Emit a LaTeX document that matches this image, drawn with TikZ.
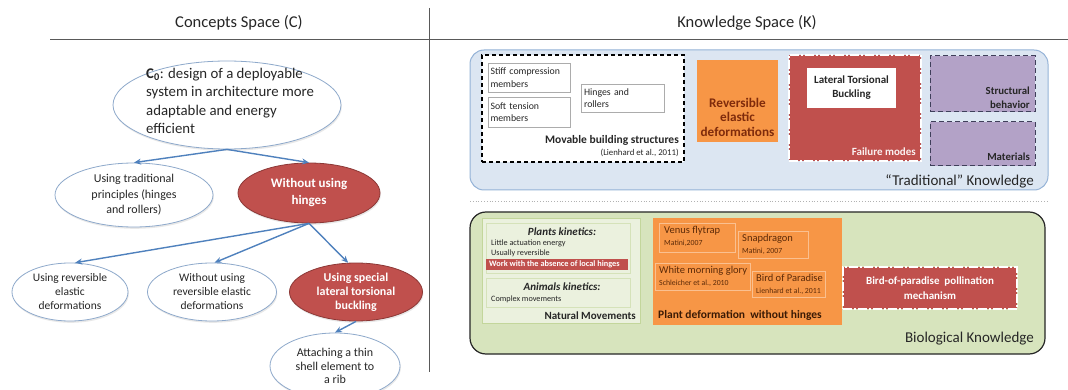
\documentclass[tikz,border=0pt]{standalone}
\usepackage{fontspec}
\setmainfont{Carlito}
\usetikzlibrary{shapes.geometric,arrows.meta,shadows}
\definecolor{arrowblue}{HTML}{4F81BD}
\definecolor{ellborder}{HTML}{8EA9CB}
\definecolor{redfill}{HTML}{C0504D}
\definecolor{redborder}{HTML}{8C3836}
\definecolor{bluefill}{HTML}{DCE6F2}
\definecolor{blueborder}{HTML}{95B3D7}
\definecolor{greenfill}{HTML}{D7E4BD}
\definecolor{greenborder}{HTML}{262626}
\definecolor{orangefill}{HTML}{F79646}
\definecolor{orangeline}{HTML}{FAC090}
\definecolor{purplefill}{HTML}{B3A2C7}
\definecolor{purpleborder}{HTML}{3F3F5A}
\definecolor{natfill}{HTML}{EBF1DE}
\definecolor{natborder}{HTML}{C3D69B}
\definecolor{darktext}{HTML}{262626}
\definecolor{brownA}{HTML}{7F2B0B}
\definecolor{brownB}{HTML}{3A1A05}
\definecolor{brownC}{HTML}{5C2A08}
\definecolor{headline}{HTML}{595959}
\newcommand\fsz[2]{\fontsize{#1}{#2}\selectfont}
\begin{document}
\begin{tikzpicture}[x=1pt,y=-1pt,
  ell/.style={ellipse, draw=ellborder, fill=white, line width=0.8pt, inner sep=0pt, align=center,
    font=\fsz{12}{15.5}, text=darktext, drop shadow={opacity=0.18,shadow xshift=0.8pt,shadow yshift=-1.8pt}},
  redell/.style={ell, fill=redfill, draw=redborder, text=white, font=\fsz{13}{17}\bfseries},
  arr/.style={-{Stealth[length=7pt,width=6pt]}, draw=arrowblue, line width=1.4pt},
  rbox/.style={rectangle, inner sep=0pt},
  smallbox/.style={rbox, draw=gray!65, fill=white, line width=0.5pt, align=left, font=\fsz{9.8}{12.5}, text=darktext},
  obox/.style={rbox, draw=orangeline, fill=orangefill, line width=0.6pt},
  purplebox/.style={rbox, fill=purplefill, draw=purpleborder, line width=1pt, dash pattern=on 5pt off 3pt},
  roughred/.style={rbox, fill=redfill, draw=white, line width=1.3pt, dash pattern=on 9pt off 2pt on 2pt off 2pt},
  head/.style={font=\fsz{16.5}{19}, text=darktext},
  label/.style={font=\fsz{15}{18}, text=darktext},
  tiny/.style={font=\fsz{8.2}{10}, text=darktext, inner sep=0pt}
]
\useasboundingbox (0,0) rectangle (1068,390);
\fill[white] (0,0) rectangle (1068,390);

% headers and separating lines
\node[head] (hc) at (239,23) {Concepts Space (C)};
\node[head] (hk) at (747,23) {Knowledge Space (K)};
\coordinate (hl1) at (50,40);
\coordinate (hl2) at (1068,40);
\coordinate (vl1) at (429,8);
\coordinate (vl2) at (429,372);
\draw[headline, line width=1pt] (hl1) -- (hl2);
\draw[headline, line width=1pt] (vl1) -- (vl2);

% ---------------- Concepts space ----------------
\node[ell, minimum width=228pt, minimum height=88pt] (c0) at (227,105) {};
\node[anchor=west, align=left, font=\fsz{14.8}{18.3}, text=darktext, inner sep=0pt] (c0t) at (146,101)
  {\textbf{C\textsubscript{0}}: design of a deployable\\system in architecture more\\adaptable and energy\\efficient};
\node[ell, minimum width=158pt, minimum height=64pt] (trad) at (134,195) {Using traditional\\principles (hinges\\and rollers)};
\node[redell, minimum width=142pt, minimum height=60pt] (wh) at (309,193) {Without using\\hinges};
\node[ell, minimum width=116pt, minimum height=58pt, font=\fsz{11.5}{14}] (urev) at (70,292) {Using reversible\\elastic\\deformations};
\node[ell, minimum width=129pt, minimum height=58pt, font=\fsz{11.5}{14}] (wrev) at (212,292) {Without using\\reversible elastic\\deformations};
\node[redell, minimum width=133pt, minimum height=58pt, font=\fsz{12}{14}\bfseries] (spec) at (356,292) {Using special\\lateral torsional\\buckling};
\node[ell, minimum width=130pt, minimum height=66pt, font=\fsz{12}{13.5}] (att) at (335,366) {Attaching a thin\\shell element to\\a rib};

\draw[arr] (c0.south) -- (trad.north);
\draw[arr] (c0.south) -- (wh.north);
\draw[arr] (wh.south) -- (urev.80);
\draw[arr] (wh.south) -- (wrev.85);
\draw[arr] (wh.south) -- (spec.105);
\draw[arr] (spec.south) -- (att.north);

% ---------------- Traditional knowledge ----------------
\node[rbox, fill=bluefill, draw=blueborder, line width=1pt, rounded corners=14pt,
  minimum width=578pt, minimum height=140pt] (trk) at (759,120) {};
\node[rbox, fill=white, draw=black, line width=1.2pt, dash pattern=on 4pt off 3pt,
  minimum width=202pt, minimum height=107pt] (mov) at (583,108.5) {};
\node[smallbox, minimum width=82pt, minimum height=29pt, text width=77pt] (stiff) at (529,77.5) {Stiff compression\\members};
\node[smallbox, minimum width=82pt, minimum height=30pt, text width=77pt] (soft) at (529,112) {Soft tension\\members};
\node[smallbox, minimum width=83pt, minimum height=28pt, text width=77pt] (hing) at (622.5,98) {Hinges and\\rollers};
\node[anchor=east, font=\fsz{11.5}{13}\bfseries, text=darktext, inner sep=0pt] (movt) at (679,140) {Movable building structures};
\node[anchor=east, font=\fsz{8.8}{10}, text=darktext, inner sep=0pt] (movc) at (679,153) {(Lienhard et al., 2011)};

\node[rbox, fill=orangefill, minimum width=81pt, minimum height=82pt] (rev) at (737.5,101) {};
\node[align=center, font=\fsz{13.2}{14.5}\bfseries, text=brownA, inner sep=0pt] (revt) at (737.5,117) {Reversible\\elastic\\deformations};

\node[roughred, minimum width=132pt, minimum height=106pt] (fail) at (855,108) {};
\node[rbox, fill=white, minimum width=89pt, minimum height=40pt, align=center,
  font=\fsz{11}{14}\bfseries, text=darktext] (ltb) at (851.5,88) {Lateral Torsional\\Buckling};
\node[anchor=east, font=\fsz{11}{12}\bfseries, text=white!92!redfill, inner sep=0pt] (failt) at (916,152) {Failure modes};

\node[purplebox, minimum width=105pt, minimum height=56pt] (sb) at (982.5,84) {};
\node[anchor=south east, align=right, font=\fsz{10.8}{14}\bfseries, text=darktext, inner sep=0pt] (sbt) at (1030,109) {Structural\\behavior};
\node[purplebox, minimum width=105pt, minimum height=44pt] (mat) at (982.5,144) {};
\node[anchor=east, font=\fsz{10.8}{12}\bfseries, text=darktext, inner sep=0pt] (matt) at (1030,157) {Materials};

\node[anchor=east, label, inner sep=0pt] (trt) at (1034,181) {“Traditional” Knowledge};

% dotted separator
\coordinate (ds1) at (470,201);
\coordinate (ds2) at (1048,201);
\draw[gray!60, line width=0.8pt, dotted] (ds1) -- (ds2);

% ---------------- Biological knowledge ----------------
\node[rbox, fill=greenfill, draw=greenborder, line width=1.2pt, rounded corners=16pt,
  minimum width=575pt, minimum height=142pt] (bio) at (757.5,283) {};

\node[rbox, fill=natfill, draw=natborder, line width=0.6pt, minimum width=158pt, minimum height=105pt] (nat) at (561,270.5) {};
\node[rbox, fill=natfill, draw=natborder!70, line width=0.5pt, minimum width=144pt, minimum height=50pt] (plk) at (558,248) {};
\node[font=\fsz{11}{12}\bfseries\itshape, text=darktext, inner sep=0pt] (plkt) at (562,232) {Plants kinetics:};
\node[anchor=west, tiny] (lae) at (491,243) {Little actuation energy};
\node[anchor=west, tiny] (urv) at (491,253) {Usually reversible};
\node[rbox, fill=redfill, minimum width=142pt, minimum height=11pt] (wabs) at (557,264.5) {};
\node[anchor=west, font=\fsz{8.3}{9}\bfseries, text=white, inner sep=0pt] (wabst) at (489,264.5) {Work with the absence of local hinges};
\node[rbox, fill=natfill, draw=natborder!70, line width=0.5pt, minimum width=144pt, minimum height=29pt] (ank) at (558,292.5) {};
\node[font=\fsz{11}{12}\bfseries\itshape, text=darktext, inner sep=0pt] (ankt) at (562,287) {Animals kinetics:};
\node[anchor=west, tiny] (cmv) at (491,299) {Complex movements};
\node[anchor=east, font=\fsz{11}{12}\bfseries, text=darktext, inner sep=0pt] (natt) at (636,316) {Natural Movements};

\node[rbox, fill=orangefill, minimum width=189pt, minimum height=107pt] (pdef) at (747.5,271.5) {};
\node[obox, minimum width=76pt, minimum height=29pt] (venus) at (697,237.5) {};
\node[anchor=north west, align=left, inner sep=0pt, font=\fsz{10.5}{12}, text=brownC] (venust) at (664,226)
  {Venus flytrap\\{\fsz{7.8}{9}Matini,2007}};
\node[obox, minimum width=70pt, minimum height=27pt] (snap) at (773,244.5) {};
\node[anchor=north west, align=left, inner sep=0pt, font=\fsz{10.5}{12}, text=brownC] (snapt) at (742,234)
  {Snapdragon\\{\fsz{7.8}{9}Matini, 2007}};
\node[obox, minimum width=95pt, minimum height=27pt] (wmg) at (702.5,276.5) {};
\node[anchor=north west, align=left, inner sep=0pt, font=\fsz{10.5}{12}, text=brownC] (wmgt) at (659,266)
  {White morning glory\\{\fsz{7.8}{9}Schleicher et al., 2010}};
\node[obox, minimum width=73pt, minimum height=26pt] (bop) at (788.5,284) {};
\node[anchor=north west, align=left, inner sep=0pt, font=\fsz{10.5}{12}, text=brownC] (bopt) at (756,274)
  {Bird of Paradise\\{\fsz{7.8}{9}Lienhard et al., 2011}};
\node[anchor=west, font=\fsz{11.5}{12}\bfseries, text=brownB, inner sep=0pt] (pdeft) at (658,315) {Plant deformation\ \ without hinges};

\node[roughred, minimum width=174pt, minimum height=42pt, align=center, font=\fsz{11}{14.5}\bfseries, text=white] (bpm) at (930,288)
  {Bird-of-paradise\ \ pollination\\mechanism};

\node[anchor=east, label, inner sep=0pt] (biot) at (1034,339) {Biological Knowledge};
\end{tikzpicture}
\end{document}
